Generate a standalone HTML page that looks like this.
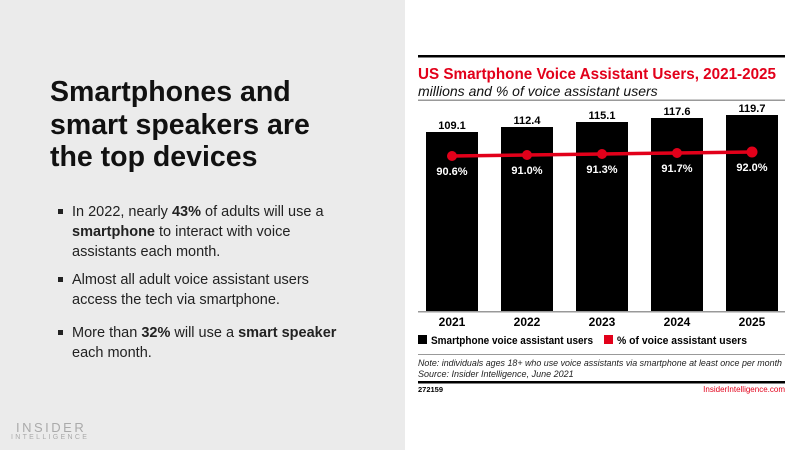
<!DOCTYPE html><html><head><style>
body{margin:0;width:800px;height:450px;position:relative;font-family:"Liberation Sans",sans-serif;background:#fff;overflow:hidden}
.l{position:absolute;left:0;top:0;width:405px;height:450px;background:#ebebeb}
h1{position:absolute;left:50px;top:76px;margin:0;font-size:28.5px;line-height:32.5px;font-weight:bold;color:#111}
.b{position:absolute;left:72px;font-size:14.5px;line-height:20px;color:#222;width:275px}
.b:before{content:"";position:absolute;left:-14px;top:7px;width:5px;height:5px;background:#222}
.t{position:absolute;white-space:nowrap}
</style></head><body>
<div class="l"></div>
<h1>Smartphones and<br>smart speakers are<br>the top devices</h1>
<div class="b" style="top:202px">In 2022, nearly <b>43%</b> of adults will use a <b>smartphone</b> to interact with voice assistants each month.</div>
<div class="b" style="top:270px">Almost all adult voice assistant users access the tech via smartphone.</div>
<div class="b" style="top:323px">More than <b>32%</b> will use a <b>smart speaker</b> each month.</div>
<div class="t" style="left:16px;top:420px;font-size:13px;letter-spacing:2.5px;color:#aaa">INSIDER</div>
<div class="t" style="left:11px;top:434px;font-size:7px;letter-spacing:2.3px;color:#aaa">INTELLIGENCE</div>
<svg style="position:absolute;left:0;top:0" width="800" height="450" font-family="Liberation Sans, sans-serif">
<rect x="418" y="55" width="367" height="2.5" fill="#000"/>
<text x="418" y="79" font-size="15.5" font-weight="bold" fill="#e2001a" textLength="358" lengthAdjust="spacingAndGlyphs">US Smartphone Voice Assistant Users, 2021-2025</text>
<text x="418" y="96" font-size="14" font-style="italic" fill="#111">millions and % of voice assistant users</text>
<rect x="418" y="99.5" width="367" height="1.5" fill="#999"/>
<g fill="#000">
<rect x="426" y="132" width="52" height="180"/><rect x="501" y="127" width="52" height="185"/><rect x="576" y="122" width="52" height="190"/><rect x="651" y="118" width="52" height="194"/><rect x="726" y="115" width="52" height="197"/>
</g>
<rect x="418" y="311" width="367" height="1.5" fill="#999"/>
<g font-size="11" font-weight="bold" text-anchor="middle" fill="#000">
<text x="452" y="129">109.1</text><text x="527" y="124">112.4</text><text x="602" y="119">115.1</text><text x="677" y="115">117.6</text><text x="752" y="112">119.7</text>
<text x="452" y="326" font-size="12">2021</text><text x="527" y="326" font-size="12">2022</text><text x="602" y="326" font-size="12">2023</text><text x="677" y="326" font-size="12">2024</text><text x="752" y="326" font-size="12">2025</text>
</g>
<polyline points="452,156 527,155 602,154 677,153 752,152" fill="none" stroke="#e2001a" stroke-width="3.5"/>
<g fill="#e2001a"><circle cx="452" cy="156" r="5"/><circle cx="527" cy="155" r="5"/><circle cx="602" cy="154" r="5"/><circle cx="677" cy="153" r="5"/><circle cx="752" cy="152" r="5.5"/></g>
<g font-size="11" font-weight="bold" text-anchor="middle" fill="#fff">
<text x="452" y="175">90.6%</text><text x="527" y="174">91.0%</text><text x="602" y="173">91.3%</text><text x="677" y="172">91.7%</text><text x="752" y="171">92.0%</text>
</g>
<rect x="418" y="335" width="9" height="9" fill="#000"/>
<text x="431" y="344" font-size="11" font-weight="bold" textLength="162" lengthAdjust="spacingAndGlyphs">Smartphone voice assistant users</text>
<rect x="604" y="335" width="9" height="9" fill="#e2001a"/>
<text x="617" y="344" font-size="11" font-weight="bold" textLength="130" lengthAdjust="spacingAndGlyphs">% of voice assistant users</text>
<rect x="418" y="354" width="367" height="1" fill="#999"/>
<text x="418" y="366" font-size="9" font-style="italic" fill="#222" textLength="364" lengthAdjust="spacingAndGlyphs">Note: individuals ages 18+ who use voice assistants via smartphone at least once per month</text>
<text x="418" y="377" font-size="9" font-style="italic" fill="#222">Source: Insider Intelligence, June 2021</text>
<rect x="418" y="381" width="367" height="2.5" fill="#000"/>
<text x="418" y="392" font-size="7.5" font-weight="bold">272159</text>
<text x="785" y="392" font-size="8" text-anchor="end" fill="#e2001a">InsiderIntelligence.com</text>
</svg>
</body></html>
